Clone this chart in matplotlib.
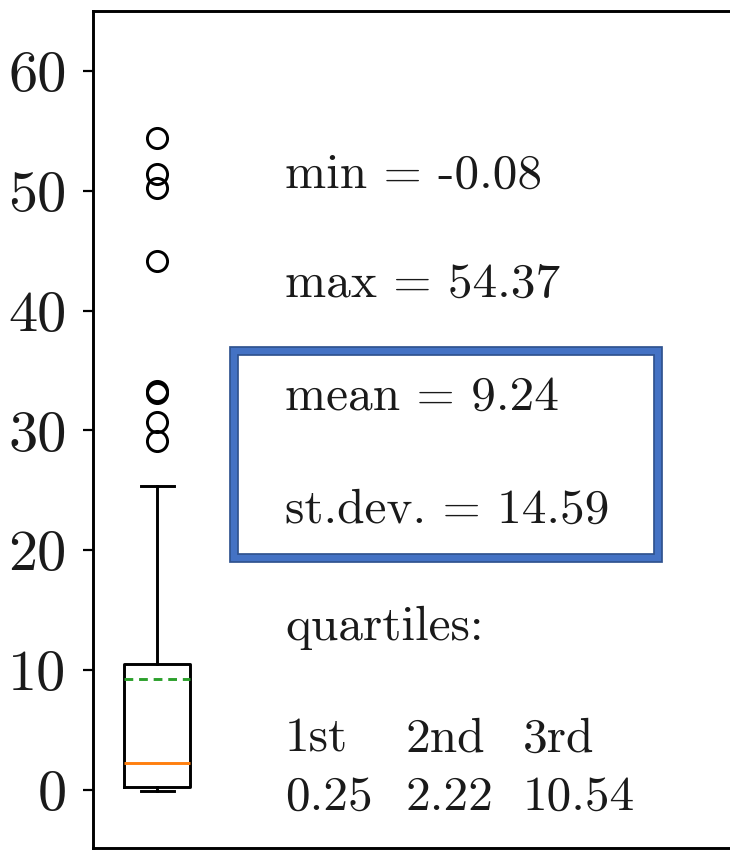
import matplotlib
matplotlib.use("Agg")
import matplotlib.pyplot as plt
from matplotlib.patches import Rectangle

plt.rcParams["font.family"] = "serif"
plt.rcParams["font.serif"] = ["cmr10"]
plt.rcParams["axes.unicode_minus"] = False
plt.rcParams["mathtext.fontset"] = "cm"

# box statistics
q1, median, q3 = 0.25, 2.22, 10.54
mean = 9.24
whis_lo, whis_hi = -0.08, 25.4
fliers = [54.37, 51.4, 50.2, 44.1, 33.3, 33.1, 30.7, 29.1]

stat_lines = ["min = -0.08", "max = 54.37", "mean = 9.24", "st.dev. = 14.59", "quartiles:"]
quart_names = ["1st", "2nd", "3rd"]
quart_values = ["0.25", "2.22", "10.54"]
yticks = [0, 10, 20, 30, 40, 50, 60]

W, H = 730, 851
fig = plt.figure(figsize=(W / 100, H / 100), dpi=100)
ax = fig.add_axes([93 / W, 1 - 848 / H, 707 / W, (848 - 11) / H])

lw = 2.1
stats = [dict(med=median, q1=q1, q3=q3, whislo=whis_lo, whishi=whis_hi,
              mean=mean, fliers=fliers)]
ax.bxp(stats, positions=[1], widths=0.5, showmeans=True, meanline=True,
       boxprops=dict(linewidth=lw, color="black"),
       whiskerprops=dict(linewidth=lw, color="black"),
       capprops=dict(linewidth=lw, color="black"),
       medianprops=dict(linewidth=lw, color="C1"),
       meanprops=dict(linewidth=lw, color="C2", linestyle="--", dashes=(3, 2)),
       flierprops=dict(marker="o", markersize=14.5, markeredgewidth=2.1,
                       markerfacecolor="none", markeredgecolor="black"))

ax.set_xlim(0.515, 0.515 + 707 / 132)
ax.set_ylim(-4.84, 65.0)
ax.set_xticks([])
ax.set_yticks(yticks)
ax.tick_params(axis="y", labelsize=42, length=7, width=1.6, pad=12,
               labelcolor="#1a1a1a")
for s in ax.spines.values():
    s.set_linewidth(2.1)
ax.spines["right"].set_visible(False)

# summary text
fs = 35.5
ys = [188, 297, 410, 523, 640]
for t, y in zip(stat_lines, ys):
    fig.text(285 / W, 1 - y / H, t, fontsize=fs, va="baseline", color="#1a1a1a")
xs = [285, 405, 523]
for name, val, x in zip(quart_names, quart_values, xs):
    fig.text(x / W, 1 - 752 / H, name, fontsize=fs, va="baseline", color="#1a1a1a")
    fig.text(x / W, 1 - 810 / H, val, fontsize=fs, va="baseline", color="#1a1a1a")

# highlight frame
frame = ((234 / W, 1 - 558 / H), (658 - 234) / W, (558 - 351) / H)
fig.patches.append(Rectangle(*frame, transform=fig.transFigure, fill=False,
                             edgecolor="#2F528F", linewidth=7))
fig.patches.append(Rectangle(*frame, transform=fig.transFigure, fill=False,
                             edgecolor="#4472C4", linewidth=4.5))

fig.savefig("out.png", dpi=100)
